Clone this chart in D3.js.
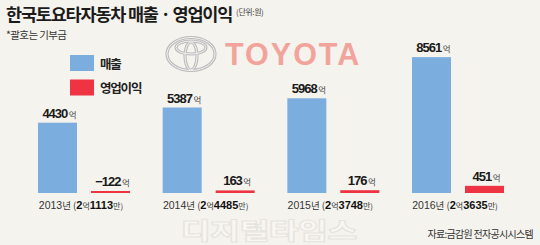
<!DOCTYPE html>
<html><head><meta charset="utf-8">
<script src="https://cdn.jsdelivr.net/npm/d3@7"></script>
<style>
html,body{margin:0;padding:0;background:#f5f3ee;}
svg{display:block;}
</style></head>
<body>
<svg id="c" width="540" height="245"></svg>
<script>
const years = ["2013", "2014", "2015", "2016"];
const sales = [4430, 5387, 5968, 8561];          // 매출 (억)
const opProfit = [-122, 163, 176, 451];          // 영업이익 (억)
const donationEok = [2, 2, 2, 2];                // 기부금 (억)
const donationMan = [1113, 4485, 3748, 3635];    // 기부금 (만)
const seriesNames = ["매출", "영업이익"];
const colors = {sales: "#7badde", op: "#ee3342"};

const svg = d3.select("#c");
const KR = "'Noto Sans CJK KR','Noto Sans',sans-serif";
const NUM = "'Liberation Sans',Arial,sans-serif";

svg.append("rect").attr("width", 540).attr("height", 245).attr("fill", "#f5f3ee");

// watermark
svg.append("text").attr("x", 181).attr("y", 238.5)
  .attr("font-family", KR).attr("font-weight", 900).attr("font-size", 22.5)
  .attr("textLength", 176).attr("lengthAdjust", "spacingAndGlyphs")
  .attr("fill", "#f7f6f2").attr("stroke", "#e6e4de").attr("stroke-width", 1)
  .text("디지털타임스");

// title
const title = svg.append("text").attr("x", 6).attr("y", 21)
  .attr("font-family", KR).attr("font-weight", 700).attr("font-size", 17.5)
  .attr("letter-spacing", -1.2).attr("fill", "#1b1b1b");
title.append("tspan").text("한국토요타자동차 매출 · 영업이익");
title.append("tspan").attr("font-size", 8).attr("font-weight", 400).attr("fill", "#444")
  .attr("dx", 4).attr("dy", -6).attr("letter-spacing", -0.4).text("(단위:원)");

svg.append("text").attr("x", 6).attr("y", 39)
  .attr("font-family", KR).attr("font-size", 10.5).attr("letter-spacing", -0.6)
  .attr("fill", "#333").text("*괄호는 기부금");

// Toyota emblem
const emb = svg.append("g").attr("fill", "none");
[["#bdbdbd", 3.2], ["#f1f1f1", 1]].forEach(([c, w]) => {
  emb.append("ellipse").attr("cx", 191).attr("cy", 54).attr("rx", 24).attr("ry", 16.5).attr("stroke", c).attr("stroke-width", w);
  emb.append("ellipse").attr("cx", 191).attr("cy", 47.5).attr("rx", 15).attr("ry", 6.5).attr("stroke", c).attr("stroke-width", w);
  emb.append("ellipse").attr("cx", 191).attr("cy", 56).attr("rx", 6).attr("ry", 14).attr("stroke", c).attr("stroke-width", w);
});
svg.append("text").attr("x", 225).attr("y", 65)
  .attr("font-family", NUM).attr("font-weight", 700).attr("font-size", 30.5)
  .attr("letter-spacing", 2).attr("fill", "#f2a49c").text("TOYOTA");

// legend
const legend = svg.append("g");
seriesNames.forEach((n, i) => {
  legend.append("rect").attr("x", 70).attr("y", 55 + i * 24.5).attr("width", 24).attr("height", 16)
    .attr("fill", i === 0 ? colors.sales : colors.op);
  legend.append("text").attr("x", 100).attr("y", 68.5 + i * 24.5)
    .attr("font-family", KR).attr("font-weight", 700).attr("font-size", 12.5)
    .attr("letter-spacing", -1.2).attr("fill", "#222").text(n);
});

// scales
const x = d3.scaleBand().domain(years).range([38, 504]).paddingInner(0.262).paddingOuter(0).align(0);
const xi = d3.scaleBand().domain(["sales", "op"]).range([0, x.bandwidth()]).paddingInner(0.264).paddingOuter(0);
const y = d3.scaleLinear().domain([0, 9000]).range([193, 193 - 9000 * 0.01587]);

const data = years.map((yr, i) => ({yr, sales: sales[i], op: opProfit[i], de: donationEok[i], dm: donationMan[i]}));

const g = svg.selectAll("g.yr").data(data).join("g").attr("class", "yr")
  .attr("transform", d => `translate(${x(d.yr)},0)`);

g.append("rect").attr("x", xi("sales")).attr("width", xi.bandwidth())
  .attr("y", d => y(d.sales)).attr("height", d => y(0) - y(d.sales)).attr("fill", colors.sales);
// op bars drawn as magnitude above baseline, as in the original
const opH = d => Math.max(2, Math.abs(y(d.op) - y(0)));
g.append("rect").attr("x", xi("op")).attr("width", xi.bandwidth())
  .attr("y", d => y(0) - opH(d)).attr("height", opH).attr("fill", colors.op);

function valueLabel(sel, key) {
  const h = d => key === "sales" ? y(0) - y(d.sales) : opH(d);
  const t = sel.append("text")
    .attr("x", xi(key) + xi.bandwidth() / 2 + 2)
    .attr("y", d => y(0) - h(d) - 5)
    .attr("text-anchor", "middle").attr("fill", "#1a1a1a");
  t.append("tspan").attr("font-family", NUM).attr("font-size", 13).attr("font-weight", 700)
    .attr("letter-spacing", -1)
    .text(d => d[key] < 0 ? "\u2212" + Math.abs(d[key]) : d[key]);
  t.append("tspan").attr("font-family", KR).attr("font-size", 8.5).attr("fill", "#444").attr("dx", 1.5).text("억");
}
valueLabel(g, "sales");
valueLabel(g, "op");

// year labels
const yl = g.append("text").attr("x", x.bandwidth() / 2 - 3).attr("y", 208.5)
  .attr("text-anchor", "middle").attr("fill", "#333");
yl.append("tspan").attr("font-family", NUM).attr("font-size", 10.5).text(d => d.yr);
yl.append("tspan").attr("font-family", KR).attr("font-size", 9.5).text("년 (");
yl.append("tspan").attr("font-family", NUM).attr("font-size", 11).attr("fill", "#111").attr("font-weight", 700).text(d => d.de);
yl.append("tspan").attr("font-family", KR).attr("font-size", 8).text("억");
yl.append("tspan").attr("font-family", NUM).attr("font-size", 11).attr("fill", "#111").attr("font-weight", 700).text(d => d.dm);
yl.append("tspan").attr("font-family", KR).attr("font-size", 8).text("만)");

svg.append("text").attr("x", 533).attr("y", 238).attr("text-anchor", "end")
  .attr("font-family", KR).attr("font-size", 10).attr("letter-spacing", -0.7)
  .attr("fill", "#333").text("자료:금감원 전자공시시스템");
</script>
</body></html>
